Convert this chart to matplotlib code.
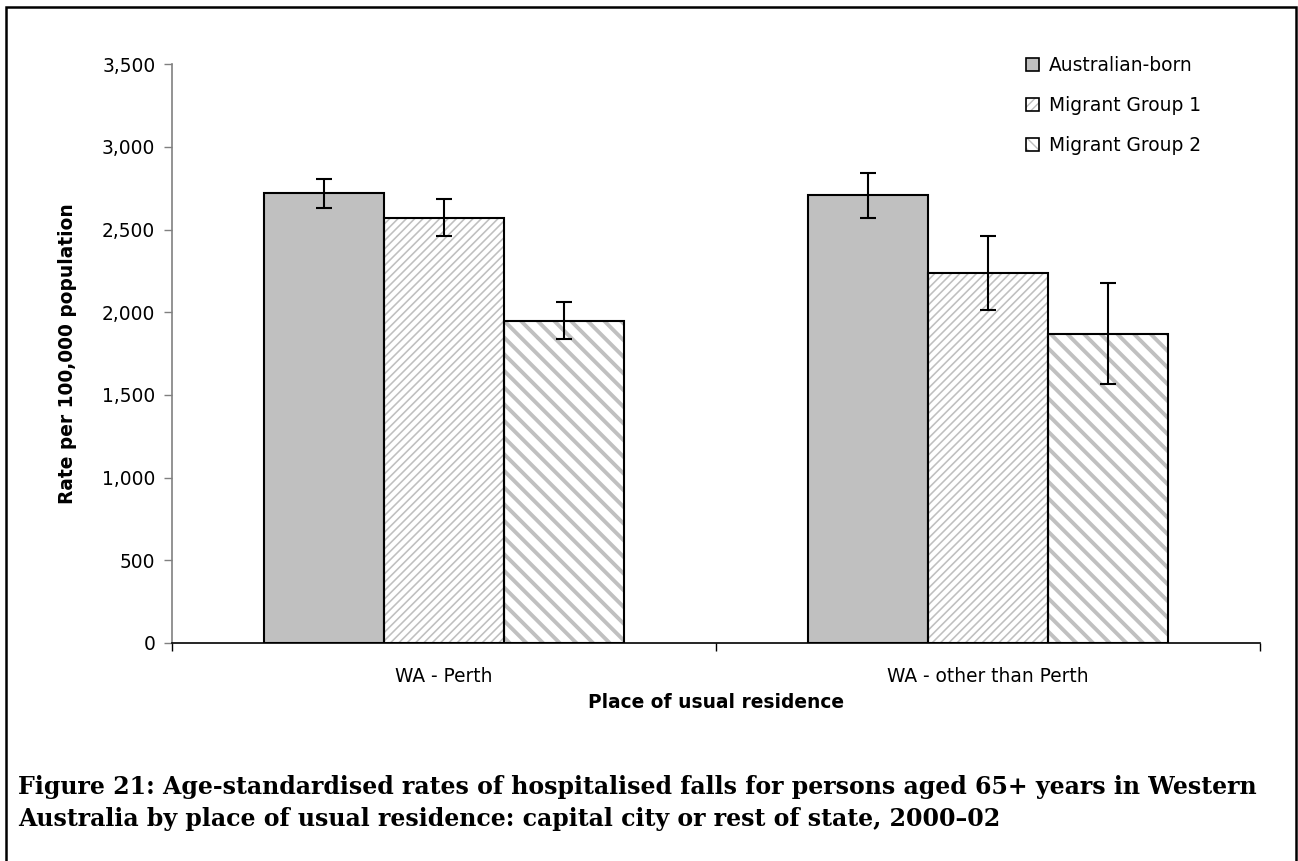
import matplotlib
matplotlib.use("Agg")
import matplotlib.pyplot as plt
from matplotlib.patches import Patch, Rectangle
import numpy as np

# ---- data ----
categories = ["WA - Perth", "WA - other than Perth"]
series_names = ["Australian-born", "Migrant Group 1", "Migrant Group 2"]
australian_born = [2720, 2710]
australian_born_lo = [2633, 2572]
australian_born_hi = [2806, 2844]
migrant_group1 = [2570, 2240]
migrant_group1_lo = [2460, 2014]
migrant_group1_hi = [2683, 2461]
migrant_group2 = [1950, 1867]
migrant_group2_lo = [1840, 1568]
migrant_group2_hi = [2064, 2175]
y_ticks = [0, 500, 1000, 1500, 2000, 2500, 3000, 3500]

plt.rcParams['font.family'] = ['DejaVu Sans']

W, H = 1298, 861
fig = plt.figure(figsize=(W / 100, H / 100), dpi=100)
fig.patch.set_facecolor('white')

ax = fig.add_axes([172 / W, (H - 643) / H, (1260 - 172) / W, (643 - 64.3) / H])

x = np.arange(len(categories))
w = 0.2206

styles = [
    dict(face='#c0c0c0', hatch=None, hcol='#c0c0c0', hlw=1.0, lhatch=None, llw=1.0),
    dict(face='white', hatch='////', hcol='#bfbfbf', hlw=1.15, lhatch='////', llw=1.2),
    dict(face='white', hatch='\\\\', hcol='#c0c0c0', hlw=2.8, lhatch='\\\\\\', llw=2.0),
]
vals = [australian_born, migrant_group1, migrant_group2]
los = [australian_born_lo, migrant_group1_lo, migrant_group2_lo]
his = [australian_born_hi, migrant_group1_hi, migrant_group2_hi]

handles = []
for j, (v, lo, hi, st) in enumerate(zip(vals, los, his, styles)):
    pos = x + (j - 1) * w
    with plt.rc_context({'hatch.linewidth': st['hlw']}):
        fill = ax.bar(pos, v, width=w, color=st['face'], hatch=st['hatch'],
                      edgecolor=st['hcol'], linewidth=0, zorder=2)
        for p in fill:
            if hasattr(p, 'set_hatch_linewidth'):
                p.set_hatch_linewidth(st['hlw'])
    ax.bar(pos, v, width=w, facecolor='none', edgecolor='black',
           linewidth=1.5, zorder=3)
    v_arr = np.array(v)
    yerr = np.vstack([v_arr - np.array(lo), np.array(hi) - v_arr])
    ax.errorbar(pos, v, yerr=yerr, fmt='none', ecolor='black',
                elinewidth=1.5, capsize=5.6, capthick=1.5, zorder=4)
    with plt.rc_context({'hatch.linewidth': st['llw']}):
        hp = Patch(facecolor=st['face'], hatch=st['lhatch'],
                   edgecolor=st['hcol'], linewidth=0)
        if hasattr(hp, 'set_hatch_linewidth'):
            hp.set_hatch_linewidth(st['llw'])
    op = Patch(facecolor='none', edgecolor='black', linewidth=1.2)
    handles.append((hp, op))

ax.set_xlim(-0.5, 1.5)
ax.set_ylim(0, 3500)
ax.set_yticks(y_ticks)
ax.set_yticklabels([f"{t:,}" for t in y_ticks], fontsize=13.4)
ax.set_xticks(x)
ax.set_xticklabels(categories, fontsize=13.4)
ax.set_xticks([-0.5, 0.5, 1.5], minor=True)
ax.tick_params(axis='x', which='major', length=0, pad=17)
ax.tick_params(axis='x', which='minor', length=6, width=1, direction='out', color='black')
ax.tick_params(axis='y', length=6, width=1, direction='out', color='#808080', pad=6)

for s in ['top', 'right']:
    ax.spines[s].set_visible(False)
ax.spines['left'].set_color('#808080')
ax.spines['left'].set_linewidth(1.2)
ax.spines['bottom'].set_color('black')
ax.spines['bottom'].set_linewidth(1.2)

ax.set_ylabel("Rate per 100,000 population", fontsize=13.4, fontweight='bold')
ax.yaxis.set_label_coords((68 - 172) / 1088, 0.5)
ax.yaxis.label.set_va('center')
ax.set_xlabel("Place of usual residence", fontsize=13.4, fontweight='bold')
ax.xaxis.set_label_coords(0.5, (643 - 703) / 578.7)
ax.xaxis.label.set_va('center')

leg = fig.legend(handles, series_names, loc='upper left',
                 bbox_to_anchor=(1026 / W, (H - 56) / H), frameon=False,
                 fontsize=13.4, handlelength=0.7, handleheight=0.7,
                 handletextpad=0.55, labelspacing=1.12, borderpad=0, borderaxespad=0)

cap_font = ['DejaVu Serif']
fig.text(18 / W, (H - 787) / H,
         "Figure 21: Age-standardised rates of hospitalised falls for persons aged 65+ years in Western",
         fontsize=17, fontweight='bold', family=cap_font,
         ha='left', va='center')
fig.text(18 / W, (H - 819) / H,
         "Australia by place of usual residence: capital city or rest of state, 2000\u201302",
         fontsize=17, fontweight='bold', family=cap_font,
         ha='left', va='center')

# page frame (open at bottom)
fig.add_artist(Rectangle((6 / W, -0.05), (1296 - 6) / W, (H - 7) / H + 0.05,
                         transform=fig.transFigure, fill=False, edgecolor='black',
                         linewidth=1.8))

fig.savefig("out.png", dpi=100)
